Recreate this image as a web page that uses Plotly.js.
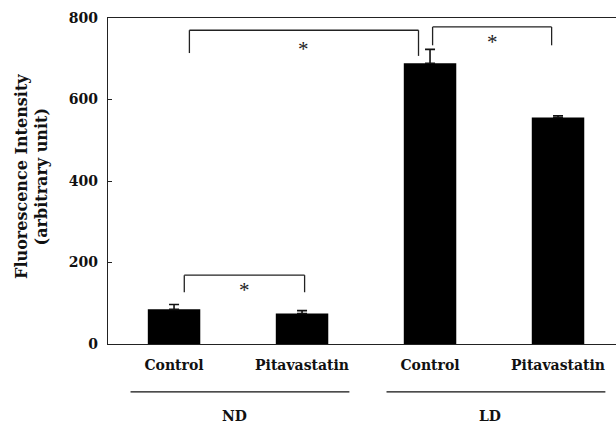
<!DOCTYPE html>
<html>
<head>
<meta charset="utf-8">
<script src="https://cdn.plot.ly/plotly-3.0.1.min.js"></script>
<style>html,body{margin:0;padding:0;background:#fff;}#chart{width:616px;height:424px;}</style>
</head>
<body>
<div id="chart"></div>
<script>
// ---- data ----
const categories = ['Control', 'Pitavastatin', 'Control', 'Pitavastatin'];
const groups = ['ND', 'LD'];
const groupMembers = [[0, 1], [2, 3]];
const values = [85, 75, 689, 556];
const errorsUp = [12, 7, 34, 4];
const yTickVals = [0, 200, 400, 600, 800];
const yTitle = 'Fluorescence Intensity<br>(arbitrary unit)';
// significance brackets: [fromIndex, toIndex, topY, leftLegBottomY, rightLegBottomY]
const brackets = [
  [0, 1, 169, 127, 127],
  [0, 2, 770, 714, 707],
  [2, 3, 778, 733, 733]
];
const starLabel = '*';

// ---- styling helpers ----
const FONT = 'DejaVu Serif, Liberation Serif, serif';
const xIdx = categories.map((_, i) => i);
const legOffsetL = [0.08, 0.12, 0.02];
const legOffsetR = [0.02, -0.09, -0.05];

const shapes = [];
const annotations = [];
brackets.forEach((b, k) => {
  const x0 = b[0] + legOffsetL[k];
  const x1 = b[1] + legOffsetR[k];
  const ln = {color: '#222', width: 1.3};
  shapes.push({type: 'line', xref: 'x', yref: 'y', x0: x0, x1: x0, y0: b[3], y1: b[2], line: ln});
  shapes.push({type: 'line', xref: 'x', yref: 'y', x0: x0, x1: x1, y0: b[2], y1: b[2], line: ln});
  shapes.push({type: 'line', xref: 'x', yref: 'y', x0: x1, x1: x1, y0: b[2], y1: b[4], line: ln});
  annotations.push({
    x: (x0 + x1) / 2, y: (b[2] + Math.min(b[3], b[4])) / 2, xref: 'x', yref: 'y',
    text: starLabel, showarrow: false, yshift: -6,
    font: {family: 'Liberation Serif, serif', size: 21, color: '#222'}
  });
});
groupMembers.forEach((m, g) => {
  const a = Math.min(...m), z = Math.max(...m);
  shapes.push({type: 'line', xref: 'x', yref: 'paper', x0: a - 0.34, x1: z + 0.37, y0: -0.147, y1: -0.147,
    line: {color: '#111', width: 1.3}});
  annotations.push({x: (a + z) / 2 - 0.03, y: -0.222, xref: 'x', yref: 'paper', yanchor: 'middle',
    text: groups[g], showarrow: false, font: {family: FONT, size: 14, color: '#111', weight: 'bold'}});
});
annotations.push({
  x: -0.15, y: 0.515, xref: 'paper', yref: 'paper', xanchor: 'center', yanchor: 'middle',
  textangle: -90, showarrow: false,
  text: yTitle, font: {family: FONT, size: 16, color: '#111', weight: 'bold'}
});

const trace = {
  type: 'bar', x: xIdx, y: values, width: 0.41,
  marker: {color: '#000', line: {width: 0}},
  error_y: {type: 'data', array: errorsUp, arrayminus: errorsUp.map(() => 0), symmetric: false,
    color: '#111', thickness: 1.6, width: 5},
  hoverinfo: 'none'
};

const layout = {
  width: 616, height: 424,
  margin: {l: 108, r: 0, t: 18, b: 80},
  paper_bgcolor: '#fff', plot_bgcolor: '#fff',
  showlegend: false,
  xaxis: {
    range: [-0.516, 3.453], tickvals: xIdx, ticktext: categories,
    showline: true, linecolor: '#222', linewidth: 1.3, mirror: true,
    showgrid: false, zeroline: false, ticks: '', ticklabelstandoff: 8,
    tickfont: {family: FONT, size: 14, color: '#111', weight: 'bold'}
  },
  yaxis: {
    range: [0, 800], tickvals: yTickVals, ticks: 'inside', ticklen: 4, tickcolor: '#222',
    showline: true, linecolor: '#222', linewidth: 1.3,
    showgrid: false, zeroline: false, ticklabelstandoff: 6,
    tickfont: {family: FONT, size: 14, color: '#111', weight: 'bold'}
  },
  shapes: shapes,
  annotations: annotations
};

Plotly.newPlot('chart', [trace], layout, {staticPlot: true, displayModeBar: false});
</script>
</body>
</html>
